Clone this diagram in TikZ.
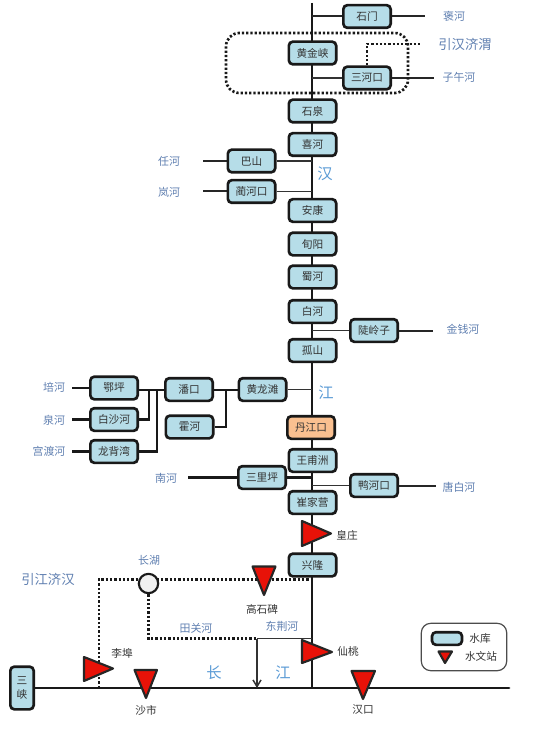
\documentclass[tikz,border=0pt]{standalone}
\usepackage{fontspec}
\setmainfont{Noto Sans CJK SC}
\usetikzlibrary{arrows.meta,backgrounds}
\definecolor{resblue}{HTML}{B6DDE8}
\definecolor{resorange}{HTML}{FAC090}
\definecolor{trired}{HTML}{E81208}
\definecolor{riverlabel}{HTML}{5F7FB0}
\definecolor{bigriver}{HTML}{5B9BD5}
\definecolor{txtdark}{HTML}{333333}
\tikzset{
  resbox/.style={rectangle,rounded corners=3pt,draw=black!90,line width=2pt,fill=resblue,
    minimum width=35.5pt,minimum height=17pt,inner sep=0pt,font=\fontsize{8}{9}\selectfont,text=txtdark},
  trib/.style={font=\fontsize{8.2}{10}\selectfont,text=riverlabel,inner sep=0pt},
  station/.style={font=\fontsize{8}{9}\selectfont,text=txtdark,inner sep=0pt},
  canal/.style={font=\fontsize{10}{12}\selectfont,text=riverlabel,inner sep=0pt},
  bigname/.style={font=\fontsize{11.5}{13}\selectfont,text=bigriver,inner sep=0pt},
  mainline/.style={draw=black!90,line width=2.2pt},
  thinline/.style={draw=black!80,line width=1.2pt},
  outerline/.style={draw=black!85,line width=1.5pt},
  midline/.style={draw=black!90,line width=1.8pt},
  dotline/.style={draw=black!90,line width=2pt,dash pattern=on 1.7pt off 1.5pt},
  tri/.style={draw=black!85,line width=1.6pt,fill=trired,line join=round}
}
\begin{document}
\begin{tikzpicture}[x=0.75pt,y=-0.75pt]
\useasboundingbox (0,0) rectangle (550,734);
% reservoirs
\node[resbox] (shimen) at (367,16.5) {石门};
\node[resbox] (hjx) at (312.5,53) {黄金峡};
\node[resbox] (shk) at (367,78) {三河口};
\node[resbox] (sq) at (312.5,111) {石泉};
\node[resbox] (xh) at (312.5,144.5) {喜河};
\node[resbox] (bs) at (251.5,161) {巴山};
\node[resbox] (lhk) at (251.5,191.5) {蔺河口};
\node[resbox] (ak) at (312.5,210.5) {安康};
\node[resbox] (xy) at (312.5,244) {旬阳};
\node[resbox] (shuh) at (312.5,277) {蜀河};
\node[resbox] (bh) at (312.5,311.5) {白河};
\node[resbox] (dlz) at (374,330.5) {陡岭子};
\node[resbox] (gs) at (312.5,350.5) {孤山};
\node[resbox] (hlt) at (262.5,389.5) {黄龙滩};
\node[resbox] (pk) at (189,389.5) {潘口};
\node[resbox] (huoh) at (189.5,427) {霍河};
\node[resbox] (ep) at (114,388) {鄂坪};
\node[resbox] (bsh) at (114,419.5) {白沙河};
\node[resbox] (lbw) at (114,451.5) {龙背湾};
\node[resbox,fill=resorange] (djk) at (311,427.5) {丹江口};
\node[resbox] (wfz) at (312.5,460.5) {王甫洲};
\node[resbox] (slp) at (262,477.5) {三里坪};
\node[resbox] (yhk) at (374,485.5) {鸭河口};
\node[resbox] (cjy) at (312.5,502.5) {崔家营};
\node[resbox] (xl) at (312.5,565) {兴隆};
\node[resbox,minimum width=17.5pt,minimum height=32pt,align=center,font=\fontsize{8}{10.5}\selectfont] (sx) at (22,688) {三\\峡};
\node[circle,draw=black!90,line width=1.6pt,fill=black!6,minimum size=14.5pt,inner sep=0pt] (ch) at (148.5,583.5) {};
% free ends
\coordinate (mtop) at (312,3);
\coordinate (mbot) at (312,688);
\coordinate (yend) at (509,688);
\coordinate (shimenR) at (425,16.5);
\coordinate (shkR) at (434,78);
\coordinate (bsL) at (203,161);
\coordinate (lhkL) at (203,191.5);
\coordinate (dlzR) at (433,330.5);
\coordinate (yhkR) at (436,485.5);
\coordinate (slpL) at (188,477.5);
\coordinate (epL) at (72,388);
\coordinate (bshL) at (72,419.5);
\coordinate (lbwL) at (72,451.5);
\coordinate (j1) at (149,390);
\coordinate (j2) at (157,390);
\coordinate (j3) at (226,390);
\coordinate (canalE) at (421,44);
\coordinate (canalC) at (367,44);
\coordinate (cw) at (99,579.5);
\coordinate (cwb) at (99,688);
\coordinate (ce) at (312,579.5);
\coordinate (tg1) at (148.5,638.5);
\coordinate (tg2) at (257,638.5);
\coordinate (tg3) at (312,638.5);
\coordinate (tg4) at (257,688);
% stations (triangles)
\coordinate (hzA) at (302,521); \coordinate (hzB) at (302,546); \coordinate (hzC) at (331,533.5);
\coordinate (xtA) at (302,640); \coordinate (xtB) at (302,663); \coordinate (xtC) at (332,652);
\coordinate (lbA) at (84,657); \coordinate (lbB) at (84,681); \coordinate (lbC) at (113,668.5);
\coordinate (ssA) at (134.5,670); \coordinate (ssB) at (157,670); \coordinate (ssC) at (146,698);
\coordinate (hkA) at (351.5,671); \coordinate (hkB) at (375,671); \coordinate (hkC) at (363,699);
\coordinate (gsA) at (252.5,566.5); \coordinate (gsB) at (275.5,566.5); \coordinate (gsC) at (264,595);
\begin{scope}[on background layer]
\draw[mainline] (mtop) -- (mbot);
\draw[mainline,line cap=round] (sx.east|-yend) -- (yend);
\draw[outerline] (shimen.west) -- (shimen.west-|mtop);
\draw[outerline] (shimen.east) -- (shimenR);
\draw[thinline] (shk.west) -- (shk.west-|mtop);
\draw[outerline] (shk.east) -- (shkR);
\draw[thinline] (bs.east) -- (bs.east-|mtop);
\draw[outerline] (bs.west) -- (bsL);
\draw[thinline] (lhk.east) -- (lhk.east-|mtop);
\draw[outerline] (lhk.west) -- (lhkL);
\draw[thinline] (dlz.west) -- (dlz.west-|mtop);
\draw[outerline] (dlz.east) -- (dlzR);
\draw[thinline] (hlt.east) -- (hlt.east-|mtop);
\draw[thinline] (yhk.west) -- (yhk.west-|mtop);
\draw[outerline] (yhk.east) -- (yhkR);
\draw[midline] (slp.west) -- (slpL);
\draw[midline] (slp.east) -- (slp.east-|mtop);
\draw[midline] (ep.west) -- (epL);
\draw[midline] (bsh.west) -- (bshL);
\draw[midline] (lbw.west) -- (lbwL);
\draw[midline] (ep.east|-j1) -- (pk.west|-j1);
\draw[midline] (pk.east|-j3) -- (hlt.west|-j3);
\draw[midline] (bsh.east) -| (j1);
\draw[midline] (lbw.east) -| (j2);
\draw[midline] (huoh.east) -| (j3);
% canals behind the lake
\draw[dotline] (cwb) -- (cw) -- (ce);
\draw[dotline] (ch.south) -- (tg1) -- (tg2);
\end{scope}
\draw[dotline,rounded corners=10pt] (226,33) rectangle (408,93);
\draw[dotline] (shk.north) -- (canalC) -- (canalE);
\draw[thinline,line width=1.1pt] (tg2) -- (tg3);
\draw[thinline,line width=1.1pt,-{Straight Barb[length=5pt,width=6pt]}] (tg2) -- (tg4);
% triangles
\draw[tri] (hzA) -- (hzB) -- (hzC) -- cycle;
\draw[tri] (xtA) -- (xtB) -- (xtC) -- cycle;
\draw[tri] (lbA) -- (lbB) -- (lbC) -- cycle;
\draw[tri] (ssA) -- (ssB) -- (ssC) -- cycle;
\draw[tri] (hkA) -- (hkB) -- (hkC) -- cycle;
\draw[tri] (gsA) -- (gsB) -- (gsC) -- cycle;
% tributary labels
\node[trib] (t1) at (454,16) {褒河};
\node[canal] (t2) at (465,44) {引汉济渭};
\node[trib] (t3) at (459,77) {子午河};
\node[trib] (t4) at (169,161) {任河};
\node[trib] (t5) at (169,192) {岚河};
\node[trib] (t6) at (463,329) {金钱河};
\node[trib] (t7) at (54,387) {培河};
\node[trib] (t8) at (54,420) {泉河};
\node[trib] (t9) at (49,451) {宫渡河};
\node[trib] (t10) at (166,478) {南河};
\node[trib] (t11) at (459,487) {唐白河};
\node[canal] (t12) at (48,579) {引江济汉};
\node[trib] (t13) at (196,628) {田关河};
\node[trib] (t14) at (282,626) {东荆河};
\node[trib] (t15) at (149,560) {长湖};
% big river names
\node[bigname] (b1) at (325,174) {汉};
\node[bigname] (b2) at (326,393) {江};
\node[bigname] (b3) at (214,673) {长};
\node[bigname] (b4) at (283,673) {江};
% station labels
\node[station] (s1) at (347,535) {皇庄};
\node[station] (s2) at (262,609) {高石碑};
\node[station] (s3) at (122,653) {李埠};
\node[station] (s4) at (146,710) {沙市};
\node[station] (s5) at (363,710) {汉口};
\node[station] (s6) at (348,651) {仙桃};
% legend
\node[draw=black!70,line width=0.9pt,rounded corners=7pt,minimum width=64pt,minimum height=35.5pt,inner sep=0pt] (legend) at (464,647) {};
\node[resbox,minimum width=22.5pt,minimum height=9.5pt] (lgbox) at (447,638.5) {};
\coordinate (lgA) at (438.5,651.5); \coordinate (lgB) at (452,651.5); \coordinate (lgC) at (445,663);
\draw[tri] (lgA) -- (lgB) -- (lgC) -- cycle;
\node[station] (lg1) at (480,638) {水库};
\node[station] (lg2) at (481,656) {水文站};
\end{tikzpicture}
\end{document}
